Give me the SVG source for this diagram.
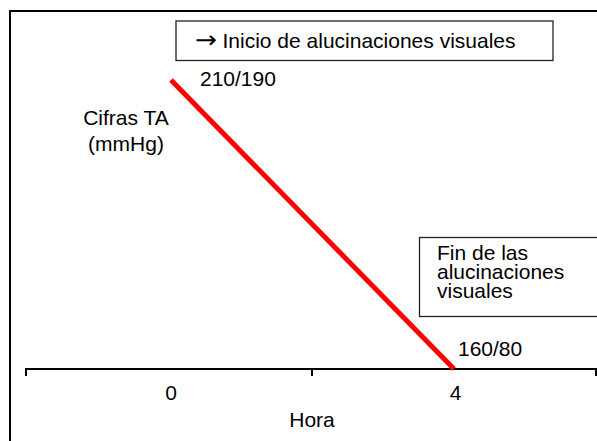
<svg xmlns="http://www.w3.org/2000/svg" width="597" height="441" viewBox="0 0 597 441">
<style>
text{font-family:"Liberation Sans",Arial,sans-serif;font-size:21px;fill:#000}
.box{fill:#fff;stroke:#222;stroke-width:1.3}
.ax{stroke:#000;stroke-width:2;fill:none}
.arr{font-family:"DejaVu Sans",sans-serif;font-size:24px}
</style>
<rect width="597" height="441" fill="#fff"/>
<g id="frame"><path class="ax" d="M10,442 V11 H598"/></g>
<g id="axis">
<path class="ax" d="M26,376 V369 H598 M312,369 V376 M596,369 V376"/>
<text x="171" y="400" text-anchor="middle">0</text>
<text x="455.5" y="400" text-anchor="middle">4</text>
<text x="312" y="427" text-anchor="middle">Hora</text>
</g>
<g id="ylabel">
<text x="126" y="125" text-anchor="middle">Cifras TA</text>
<text x="126" y="151" text-anchor="middle">(mmHg)</text>
</g>
<g id="connectors">
<line x1="171" y1="80" x2="454" y2="369" stroke="#ff0000" stroke-width="5"/>
</g>
<g id="start-label"><text x="200" y="86">210/190</text></g>
<g id="end-label"><text x="458" y="356">160/80</text></g>
<g id="inicio">
<rect class="box" x="176" y="21" width="377" height="39.5"/>
<text x="195" y="47.5"><tspan class="arr" textLength="22" lengthAdjust="spacingAndGlyphs">→</tspan><tspan x="222.5">Inicio de alucinaciones visuales</tspan></text>
</g>
<g id="fin">
<rect class="box" x="419.5" y="237.5" width="180" height="79"/>
<text x="437" y="260">Fin de las</text>
<text x="437" y="279">alucinaciones</text>
<text x="437" y="298">visuales</text>
</g>
</svg>
